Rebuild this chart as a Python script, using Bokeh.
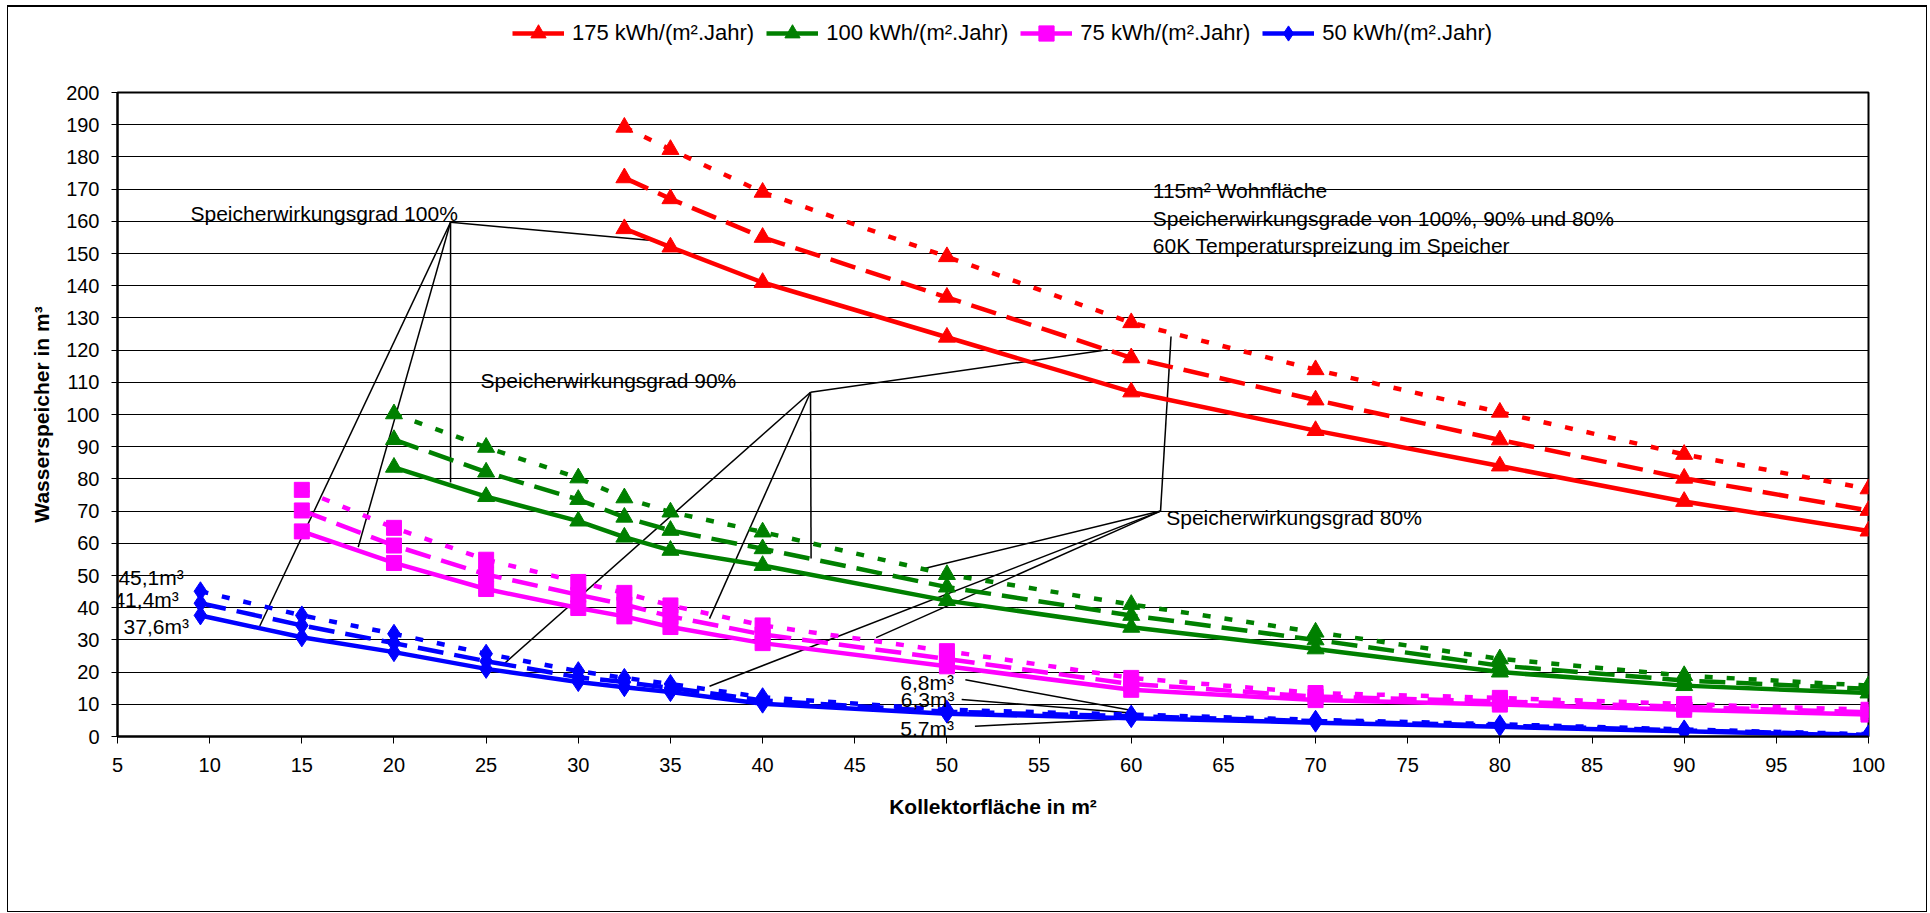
from bokeh.plotting import figure
from bokeh.layouts import column
from bokeh.models import Range1d, FixedTicker, Legend, LegendItem, Label, ColumnDataSource
from bokeh.embed import file_html
from bokeh.resources import INLINE

FONT = "Liberation Sans"

# ---------------- data ----------------
legend_labels = ["175 kWh/(m².Jahr)", "100 kWh/(m².Jahr)", "75 kWh/(m².Jahr)", "50 kWh/(m².Jahr)"]

x_red = [32.5, 35, 40, 50, 60, 70, 80, 90, 100]
red_100 = [157.7, 152, 141, 124, 107, 95, 84, 73, 63.8]
red_90 = [173.5, 167, 155, 136.4, 117.6, 104.5, 92.1, 80.2, 70.2]
red_80 = [189.2, 182.3, 169, 149, 128.5, 113.9, 100.7, 87.6, 76.9]

x_green = [20, 25, 30, 32.5, 35, 40, 50, 60, 70, 80, 90, 100]
green_100 = [83.6, 74.5, 66.9, 61.9, 57.8, 53.1, 42.2, 33.9, 27.2, 20, 15.8, 13.5]
green_90 = [92.2, 82.1, 73.6, 68.1, 64, 58.3, 46.4, 37.6, 30, 22, 17.4, 14.8]
green_80 = [100.2, 89.8, 80.3, 74.1, 69.7, 63.5, 50.3, 41, 32.4, 24.1, 18.9, 15.8]

x_mag = [15, 20, 25, 30, 32.5, 35, 40, 50, 60, 70, 80, 90, 100]
mag_100 = [63.7, 53.9, 45.8, 39.9, 37.3, 34, 29, 21.8, 14.5, 11.3, 9.9, 8.3, 6.8]
mag_90 = [70.2, 59.3, 50.3, 44, 41, 37.3, 31.7, 24.1, 16.3, 12.4, 10.9, 9.2, 7.5]
mag_80 = [76.6, 64.8, 54.9, 48, 44.6, 40.7, 34.5, 26.5, 18.2, 13.5, 12, 10.1, 8.3]

x_blue = [9.5, 15, 20, 25, 30, 32.5, 35, 40, 50, 60, 70, 80, 90, 100]
blue_100 = [37.6, 30.8, 26.2, 21, 16.9, 15.3, 13.8, 10.2, 7.1, 5.7, 4.3, 3.0, 1.6, 0.3]
blue_90 = [41.4, 34.5, 29, 23.4, 18.4, 16.9, 15.1, 11.2, 7.7, 6.3, 4.8, 3.4, 1.9, 0.5]
blue_80 = [45.1, 37.6, 31.9, 25.7, 20.3, 18.2, 16.3, 12.2, 8.3, 6.8, 5.2, 3.8, 2.2, 0.7]

x_ticks = list(range(5, 101, 5))
y_ticks = list(range(0, 201, 10))

note_texts = ["Speicherwirkungsgrad 100%", "Speicherwirkungsgrad 90%", "Speicherwirkungsgrad 80%",
              "115m² Wohnfläche", "Speicherwirkungsgrade von 100%, 90% und 80%",
              "60K Temperaturspreizung im Speicher"]
note_x = [8.96, 24.7, 61.9, 61.17, 61.17, 61.17]
note_y = [162.4, 110.6, 67.9, 169.6, 160.8, 152.5]

val_texts = ["45,1m³", "41,4m³", "37,6m³", "6,8m³", "6,3m³", "5,7m³"]
val_x = [5.05, 4.78, 5.33, 47.47, 47.5, 47.47]
val_y = [49.5, 42.7, 34.3, 16.9, 11.5, 2.4]

# leader lines (hub -> target)
lead_x0 = [23.07, 23.07, 23.07, 23.07, 42.60, 42.60, 42.60, 42.60, 61.59, 61.59, 61.59, 61.59, 51.0, 50.8, 51.52]
lead_y0 = [159.7, 159.7, 159.7, 159.7, 106.9, 106.9, 106.9, 106.9, 70.0, 70.0, 70.0, 70.0, 17.6, 11.5, 3.2]
lead_x1 = [34.01, 23.07, 18.06, 12.72, 58.72, 42.63, 37.12, 26.02, 62.16, 48.72, 46.16, 37.12, 59.83, 59.83, 59.83]
lead_y1 = [154.0, 78.9, 58.8, 34.3, 120.1, 55.3, 36.6, 22.8, 124.2, 52.1, 30.7, 15.6, 8.3, 7.4, 5.5]

series = [
    (legend_labels[0], "#FF0000", "triangle", 17, x_red, [red_100, red_90, red_80]),
    (legend_labels[1], "#008000", "triangle", 17, x_green, [green_100, green_90, green_80]),
    (legend_labels[2], "#FF00FF", "square", 15, x_mag, [mag_100, mag_90, mag_80]),
    (legend_labels[3], "#0000FF", "diamond", 19, x_blue, [blue_100, blue_90, blue_80]),
]
dashes = ["solid", "26 11", "8 14"]


def draw_series(fig):
    solid = []
    for label, color, marker, msize, xs, ys_list in series:
        leg = None
        for ys, dash in zip(ys_list, dashes):
            src = ColumnDataSource(dict(x=xs, y=ys))
            ln = fig.line("x", "y", source=src, line_color=color, line_width=4.5, line_dash=dash)
            sc = fig.scatter("x", "y", source=src, marker=marker, size=msize,
                             fill_color=color, line_color=color, line_width=1)
            if dash == "solid":
                leg = [ln, sc]
        solid.append((label, leg))
    return solid


# ---------------- legend strip (top) ----------------
LEG_H = 68
lf = figure(width=1918, height=LEG_H, output_backend="svg", toolbar_location=None,
            x_range=Range1d(5, 100), y_range=Range1d(-20, -10),
            x_axis_location=None, y_axis_location=None,
            min_border_left=0, min_border_right=0, min_border_top=0, min_border_bottom=0)
lf.grid.visible = False
lf.outline_line_color = None
lf.background_fill_color = "white"
lf.border_fill_color = "white"
leg_renderers = draw_series(lf)
legend = Legend(items=[LegendItem(label=l, renderers=r) for l, r in leg_renderers],
                orientation="horizontal", location=(395, 23),
                label_text_font=FONT, label_text_font_size="22px", label_text_color="black",
                glyph_width=52, glyph_height=38, label_height=38, label_standoff=8, spacing=12,
                padding=0, margin=0, border_line_color=None, background_fill_alpha=0)
lf.add_layout(legend)

# ---------------- main chart ----------------
p = figure(width=1918, height=904 - LEG_H, output_backend="svg", toolbar_location=None,
           x_range=Range1d(5, 100), y_range=Range1d(0, 200),
           min_border_left=109, min_border_right=58, min_border_top=85 - LEG_H, min_border_bottom=175)
p.background_fill_color = "white"
p.border_fill_color = "white"
p.outline_line_color = "black"
p.outline_line_width = 2

p.xgrid.visible = False
p.ygrid.ticker = FixedTicker(ticks=y_ticks)
p.ygrid.grid_line_color = "black"
p.ygrid.grid_line_width = 1

for ax in (p.xaxis, p.yaxis):
    ax.axis_line_width = 2
    ax.axis_line_color = "black"
    ax.major_tick_in = 0
    ax.minor_tick_in = 0
    ax.minor_tick_out = 0
    ax.major_tick_line_color = "black"
    ax.major_label_text_font = FONT
    ax.major_label_text_font_size = "20px"
    ax.major_label_text_color = "black"
    ax.axis_label_text_font = FONT
    ax.axis_label_text_font_size = "21px"
    ax.axis_label_text_font_style = "bold"
    ax.axis_label_text_color = "black"

p.xaxis.ticker = FixedTicker(ticks=x_ticks)
p.yaxis.ticker = FixedTicker(ticks=y_ticks)
p.xaxis.major_tick_out = 7
p.yaxis.major_tick_out = 6
p.xaxis.major_label_standoff = 14
p.yaxis.major_label_standoff = 12
p.xaxis.axis_label = "Kollektorfläche in m²"
p.yaxis.axis_label = "Wasserspeicher in m³"
p.xaxis.axis_label_standoff = 20
p.yaxis.axis_label_standoff = 10

p.segment(x0=lead_x0, y0=lead_y0, x1=lead_x1, y1=lead_y1, line_color="black", line_width=1.5)
draw_series(p)

for t, x, y in zip(note_texts, note_x, note_y):
    p.add_layout(Label(x=x, y=y, text=t, text_font=FONT, text_font_size="21px",
                       text_baseline="middle", text_align="left", text_color="black"))
for t, x, y in zip(val_texts, val_x, val_y):
    p.add_layout(Label(x=x, y=y, text=t, text_font=FONT, text_font_size="21px",
                       text_baseline="middle", text_align="left", text_color="black"))

layout = column(lf, p, spacing=0,
                styles={"border-left": "1px solid black", "border-right": "1px solid black",
                        "border-bottom": "1px solid black", "border-top": "2px solid black",
                        "margin-left": "7px", "margin-top": "5px"})

open("out.html", "w").write(file_html(layout, INLINE))
